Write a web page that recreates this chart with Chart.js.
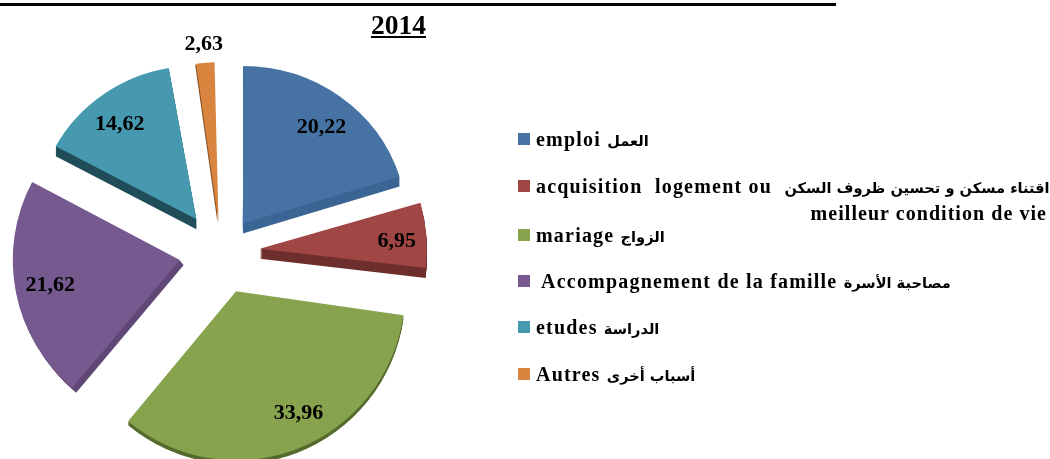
<!DOCTYPE html>
<html>
<head>
<meta charset="utf-8">
<script src="https://cdn.jsdelivr.net/npm/chart.js@4"></script>
<style>
html,body{margin:0;padding:0;background:#fff;width:1050px;height:459px;overflow:hidden}
#wrap{position:relative;width:1050px;height:459px;font-family:"Liberation Serif",serif;font-weight:bold;color:#000}
canvas{position:absolute;left:0;top:0}
#rule{position:absolute;left:0;top:3px;width:836px;height:3px;background:#000}
#year{position:absolute;left:371px;top:9px;font-size:27.5px;line-height:32px;text-decoration:underline}
.row{position:absolute;left:518px;white-space:nowrap;font-size:20px;line-height:22px;letter-spacing:1.2px;direction:ltr}
.sw{position:absolute;left:0;top:5px;width:12px;height:12px}
.tx{position:absolute;left:18px;top:0;white-space:pre}
.ar{font-family:"DejaVu Sans",sans-serif;font-size:14.6px;font-weight:bold;letter-spacing:0}
#second{position:absolute;right:3px;top:202px;font-size:20px;line-height:22px;letter-spacing:1.05px;white-space:nowrap}
</style>
</head>
<body>
<div id="wrap">
<canvas id="c" width="1050" height="459"></canvas>
<div id="rule"></div>
<div id="year"></div>
<div id="legend"></div>
<div id="second"></div>
</div>
<script>
const yearTitle = "2014";
const categories = ["emploi", "acquisition  logement ou", "mariage", " Accompagnement de la famille", "etudes", "Autres"];
const categoriesArabic = ["العمل", "اقتناء مسكن و تحسين ظروف السكن", "الزواج", "مصاحبة الأسرة", "الدراسة", "أسباب أخرى"];
const categorySecondLine = "meilleur condition de vie";
const values = [20.22, 6.95, 33.96, 21.62, 14.62, 2.63];
const colors = ["#4672A4", "#A04644", "#87A34E", "#75598F", "#4799AF", "#D9853F"];
const sideColors = ["#3B6594", "#6E2F2D", "#566B2E", "#604876", "#214E5A", "#8A5528"];
const explode = [148, 156, 168, 168, 168, 120];
const sliceRadius = [164, 167, 169, 167, 160, 160];
const sliceSquash = [0.96, 1, 1, 1, 0.96, 1];
const sideDepth = [[0,10],[0,10],[0,4],[4,5],[0,10],[-1,1]];
const labelRadius = [123, 137, 137, 132, 121, 178];
const labelTurn = [3.3, 1.5, -6, 0, -3.5, 0];
const legendTops = [128, 175, 224, 270, 316, 363];

document.getElementById('year').textContent = yearTitle;
document.getElementById('second').textContent = categorySecondLine;
const legend = document.getElementById('legend');
categories.forEach((name, i) => {
  const row = document.createElement('div');
  row.className = 'row';
  row.style.top = legendTops[i] + 'px';
  const sw = document.createElement('span');
  sw.className = 'sw';
  sw.style.background = colors[i];
  const tx = document.createElement('span');
  tx.className = 'tx';
  const ar = document.createElement('span');
  ar.className = 'ar';
  ar.textContent = categoriesArabic[i];
  tx.append(name + ' ' + (i === 1 ? ' ' : ''), ar);
  row.append(sw, tx);
  legend.append(row);
});

const extrude = {
  id: 'extrude',
  afterDatasetsUpdate(chart) {
    chart.getDatasetMeta(0).data.forEach((arc, i) => {
      const fix = 1 - Math.sin(Math.min(Math.PI, arc.circumference));
      arc.outerRadius = sliceRadius[i] - fix * explode[i] / 4;
    });
  },
  beforeDatasetDraw(chart) {
    const ctx = chart.ctx;
    chart.getDatasetMeta(0).data.forEach((arc, i) => {
      const keep = arc.options;
      const [dx, dy] = sideDepth[i];
      const n = Math.max(Math.abs(dx), Math.abs(dy));
      const squashed = (ox, oy) => {
        ctx.save();
        ctx.translate(ox, oy);
        ctx.translate(0, arc.y);
        ctx.scale(1, sliceSquash[i]);
        ctx.translate(0, -arc.y);
        arc.draw(ctx);
        ctx.restore();
      };
      arc.options = Object.assign({}, keep, {backgroundColor: sideColors[i], borderColor: sideColors[i]});
      for (let s = n; s >= 1; s--) squashed(dx * s / n, dy * s / n);
      arc.options = keep;
      squashed(0, 0);
    });
    return false;
  }
};

const sliceLabels = {
  id: 'sliceLabels',
  afterDatasetsDraw(chart) {
    const ctx = chart.ctx;
    ctx.save();
    ctx.font = 'bold 22px "Liberation Serif"';
    ctx.fillStyle = '#000';
    ctx.textAlign = 'center';
    ctx.textBaseline = 'middle';
    chart.getDatasetMeta(0).data.forEach((arc, i) => {
      const mid = (arc.startAngle + arc.endAngle) / 2;
      const turned = mid + labelTurn[i] * Math.PI / 180;
      const shift = explode[i] / 4;
      const x = arc.x + Math.cos(mid) * shift + Math.cos(turned) * labelRadius[i];
      const y = arc.y + Math.sin(mid) * shift + Math.sin(turned) * labelRadius[i];
      ctx.fillText(values[i].toFixed(2).replace('.', ','), x, y);
    });
    ctx.restore();
  }
};

new Chart(document.getElementById('c'), {
  type: 'pie',
  data: {
    labels: categories,
    datasets: [{
      data: values,
      backgroundColor: colors,
      borderWidth: 0,
      offset: explode,
      hoverOffset: 0,
      radius: 160
    }]
  },
  plugins: [extrude, sliceLabels],
  options: {
    responsive: false,
    animation: false,
    events: [],
    layout: {padding: {left: 0, right: 608, top: 45, bottom: 0}},
    plugins: {legend: {display: false}, tooltip: {enabled: false}, title: {display: false}}
  }
});
</script>
</body>
</html>
